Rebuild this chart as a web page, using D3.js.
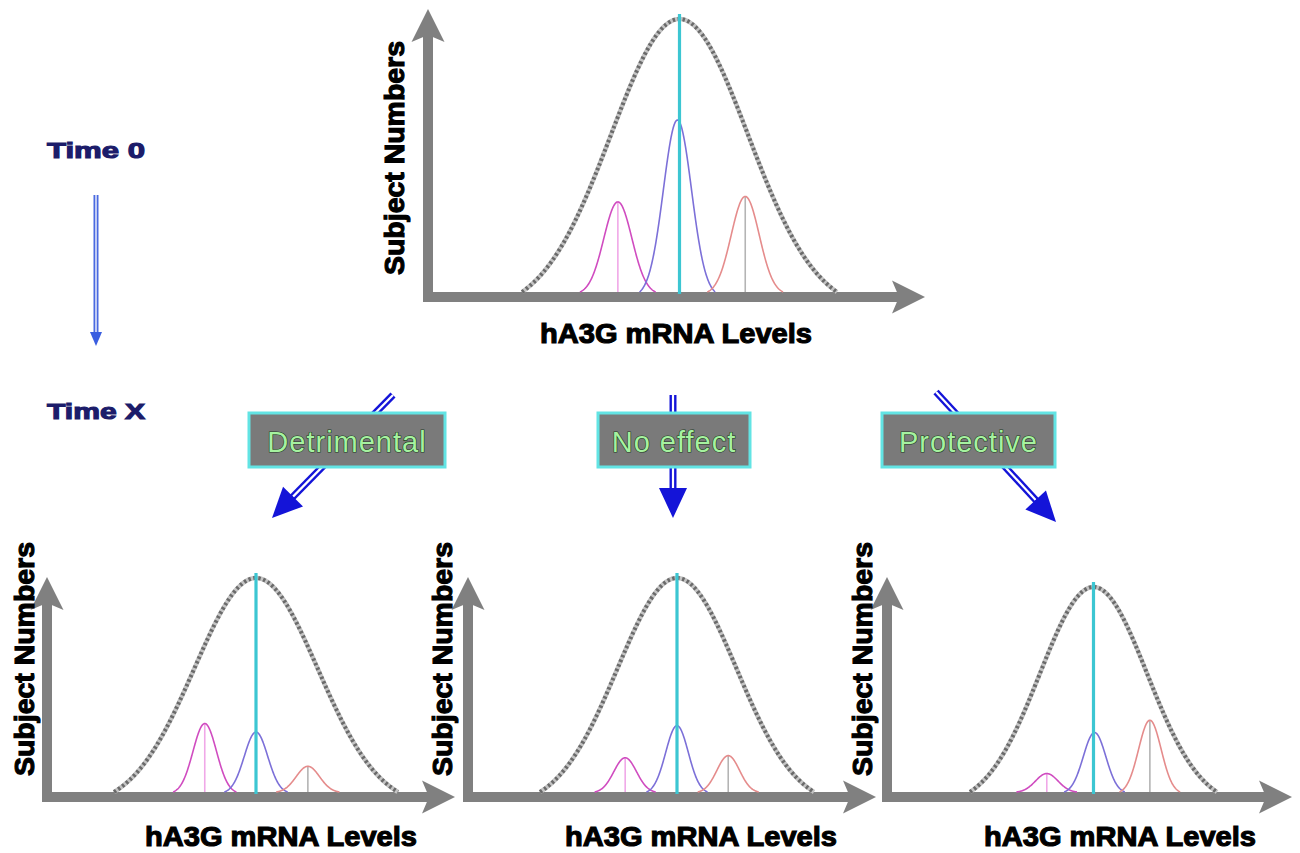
<!DOCTYPE html>
<html><head><meta charset="utf-8">
<script src="https://cdn.jsdelivr.net/npm/d3@7"></script>
<style>html,body{margin:0;padding:0;background:#fff;} svg{display:block}</style>
</head><body>
<svg id="c" width="1300" height="853"></svg>
<script>
// ---------- data ----------
const panelNames = ["Time 0", "Detrimental", "No effect", "Protective"];
const overallMean = [5, 5, 5, 5];
const overallSD = [1, 1, 1, 1];
const overallPeak = [100, 100, 100, 100];
const lowMean = [4.1, 4.17, 4.13, 4.13];
const midMean = [4.97, 5, 5, 5.02];
const highMean = [5.96, 5.84, 5.86, 6.05];
const lowPeak = [33, 32, 16, 9];
const midPeak = [63, 28, 31, 29];
const highPeak = [35, 12, 17, 35];
const componentSD = [0.205, 0.19, 0.19, 0.21];
const outcomeLabels = ["Detrimental", "No effect", "Protective"];
const timeLabels = ["Time 0", "Time X"];
const xAxisTitle = "hA3G mRNA Levels";
const yAxisTitle = "Subject Numbers";

// ---------- layout ----------
const layout = [
  {ax:428, ay:297, top:9,   right:925,  xl:522, xr:837,  py:19,  ylx:395, yly:158, xlx:676, xly:343},
  {ax:47,  ay:797, top:577, right:455,  xl:114, xr:398,  py:578, ylx:25,  yly:659, xlx:281, xly:846},
  {ax:468, ay:797, top:577, right:876,  xl:540, xr:814,  py:578, ylx:443, yly:659, xlx:701, xly:846},
  {ax:887, ay:797, top:577, right:1292, xl:970, xr:1217, py:587, ylx:863, yly:659, xlx:1120, xly:846}
];
const EDGE = 2.3;   // drawn extent of the overall curve, in SD units
const CEDGE = 2.7;  // drawn extent of component curves

const svg = d3.select("#c");
const axisColor = "#808080";
const font = "'Liberation Sans', Arial, sans-serif";

// bell curve shifted so that it meets the baseline at +-edge
function bell(x, m, s, h, edge) {
  const c = Math.exp(-0.5 * edge * edge);
  const g = Math.exp(-0.5 * ((x - m) / s) ** 2);
  return h * Math.max(0, (g - c) / (1 - c));
}

function arrowHeadUp(x, tip, w, len) {
  return `M${x},${tip} L${x + w / 2},${tip + len} L${x},${tip + len - 7} L${x - w / 2},${tip + len} Z`;
}
function arrowHeadRight(tip, y, w, len) {
  return `M${tip},${y} L${tip - len},${y - w / 2} L${tip - len + 7},${y} L${tip - len},${y + w / 2} Z`;
}

panelNames.forEach((name, i) => {
  const L = layout[i];
  const g = svg.append("g").attr("class", "panel").attr("data-name", name);
  const m = overallMean[i], sd = overallSD[i];
  const x = d3.scaleLinear().domain([m - EDGE * sd, m + EDGE * sd]).range([L.xl, L.xr]);
  const y = d3.scaleLinear().domain([0, overallPeak[i]]).range([L.ay - 5, L.py]);
  const line = d3.line().x(d => x(d[0])).y(d => y(d[1]));

  // axes
  g.append("line").attr("x1", L.ax).attr("x2", L.ax).attr("y1", L.ay + 5).attr("y2", L.top + 25)
    .attr("stroke", axisColor).attr("stroke-width", 10);
  g.append("path").attr("d", arrowHeadUp(L.ax, L.top, 33, 33)).attr("fill", axisColor);
  g.append("line").attr("x1", L.ax - 5).attr("x2", L.right - 25).attr("y1", L.ay).attr("y2", L.ay)
    .attr("stroke", axisColor).attr("stroke-width", 10);
  g.append("path").attr("d", arrowHeadRight(L.right, L.ay, 33, 33)).attr("fill", axisColor);

  // components
  const comps = [
    {mean: lowMean[i], peak: lowPeak[i], color: "#d04cc0", drop: "#f0a8e8"},
    {mean: midMean[i], peak: midPeak[i], color: "#7c70d8", drop: null},
    {mean: highMean[i], peak: highPeak[i], color: "#e58c8c", drop: "#b4b4b4"}
  ];
  const cs = componentSD[i];
  comps.forEach(c => {
    if (c.drop) {
      g.append("line").attr("x1", x(c.mean)).attr("x2", x(c.mean)).attr("y1", y(c.peak)).attr("y2", y(0))
        .attr("stroke", c.drop).attr("stroke-width", 1.6);
    }
    const cp = d3.range(c.mean - CEDGE * cs, c.mean + CEDGE * cs + 0.0001, 0.005)
      .map(v => [v, bell(v, c.mean, cs, c.peak, CEDGE)]);
    g.append("path").attr("d", line(cp)).attr("fill", "none").attr("stroke", c.color).attr("stroke-width", 1.6);
  });

  // overall distribution (dotted grey)
  const pts = d3.range(m - EDGE * sd, m + EDGE * sd + 0.0001, 0.01).map(v => [v, bell(v, m, sd, overallPeak[i], EDGE)]);
  g.append("path").attr("d", line(pts)).attr("fill", "none").attr("stroke", "#c4c4c4").attr("stroke-width", 4.5);
  g.append("path").attr("d", line(pts)).attr("fill", "none").attr("stroke", "#6a6a6a")
    .attr("stroke-width", 4).attr("stroke-dasharray", "2.5,2.5");

  // center cyan line
  g.append("line").attr("x1", x(m)).attr("x2", x(m)).attr("y1", y(overallPeak[i]) - 5).attr("y2", y(0) + 2)
    .attr("stroke", "#3cc6d2").attr("stroke-width", 3.2);

  // titles
  g.append("text").attr("x", L.xlx).attr("y", L.xly).attr("text-anchor", "middle")
    .attr("font-family", font).attr("font-weight", "bold").attr("font-size", 27)
    .attr("textLength", 272).attr("lengthAdjust", "spacingAndGlyphs")
    .attr("fill", "#000").attr("stroke", "#000").attr("stroke-width", 1.1).text(xAxisTitle);
  g.append("text").attr("transform", `translate(${L.ylx},${L.yly}) rotate(-90)`)
    .attr("text-anchor", "middle").attr("dominant-baseline", "central")
    .attr("font-family", font).attr("font-weight", "bold").attr("font-size", 27)
    .attr("textLength", 234).attr("lengthAdjust", "spacingAndGlyphs")
    .attr("fill", "#000").attr("stroke", "#000").attr("stroke-width", 1.1).text(yAxisTitle);
});

// ---------- time labels & arrow ----------
const timeY = [158, 419];
timeLabels.forEach((t, k) => {
  svg.append("text").attr("x", 47).attr("y", timeY[k])
    .attr("font-family", font).attr("font-weight", "bold").attr("font-size", 22)
    .attr("textLength", 98).attr("lengthAdjust", "spacingAndGlyphs")
    .attr("fill", "#1c1c6a").attr("stroke", "#1c1c6a").attr("stroke-width", 1.1).text(t);
});
svg.append("line").attr("x1", 96).attr("x2", 96).attr("y1", 195).attr("y2", 336)
  .attr("stroke", "#4a6ae0").attr("stroke-width", 5);
svg.append("line").attr("x1", 96).attr("x2", 96).attr("y1", 195).attr("y2", 334)
  .attr("stroke", "#fff").attr("stroke-width", 1.3);
svg.append("path").attr("d", "M90,332 L102,332 L96,346 Z").attr("fill", "#3a5ee0");

// ---------- outcome arrows & boxes ----------
const outcomeArrow = [
  {x1: 393, y1: 395, x2: 272, y2: 518},
  {x1: 673, y1: 395, x2: 673, y2: 518},
  {x1: 936, y1: 392, x2: 1056, y2: 522}
];
const outcomeBox = [
  {x: 249, y: 413, w: 196, h: 54},
  {x: 598, y: 413, w: 152, h: 54},
  {x: 882, y: 413, w: 173, h: 54}
];
const arrowBlue = "#1414d8";
outcomeLabels.forEach((lab, k) => {
  const a = outcomeArrow[k];
  const dx = a.x2 - a.x1, dy = a.y2 - a.y1, len = Math.hypot(dx, dy);
  const ux = dx / len, uy = dy / len, nx = -uy, ny = ux;
  const headLen = 30, headW = 28;
  const bx = a.x2 - ux * headLen, by = a.y2 - uy * headLen;
  svg.append("line").attr("x1", a.x1).attr("y1", a.y1).attr("x2", bx + ux * 4).attr("y2", by + uy * 4)
    .attr("stroke", arrowBlue).attr("stroke-width", 7);
  svg.append("line").attr("x1", a.x1).attr("y1", a.y1).attr("x2", bx).attr("y2", by)
    .attr("stroke", "#fff").attr("stroke-width", 2.2);
  svg.append("path")
    .attr("d", `M${a.x2},${a.y2} L${bx + nx * headW / 2},${by + ny * headW / 2} L${bx - nx * headW / 2},${by - ny * headW / 2} Z`)
    .attr("fill", arrowBlue);
  const b = outcomeBox[k];
  svg.append("rect").attr("x", b.x).attr("y", b.y).attr("width", b.w).attr("height", b.h)
    .attr("fill", "#7a7a7a").attr("stroke", "#62e4e4").attr("stroke-width", 3);
  svg.append("text").attr("x", b.x + b.w / 2).attr("y", b.y + 39)
    .attr("text-anchor", "middle")
    .attr("font-family", font).attr("font-size", 29).attr("letter-spacing", 1)
    .attr("fill", "#a6f2a0").attr("stroke", "#1e3a1e").attr("stroke-width", 1.2)
    .attr("paint-order", "stroke").text(lab);
});
</script>
</body></html>
